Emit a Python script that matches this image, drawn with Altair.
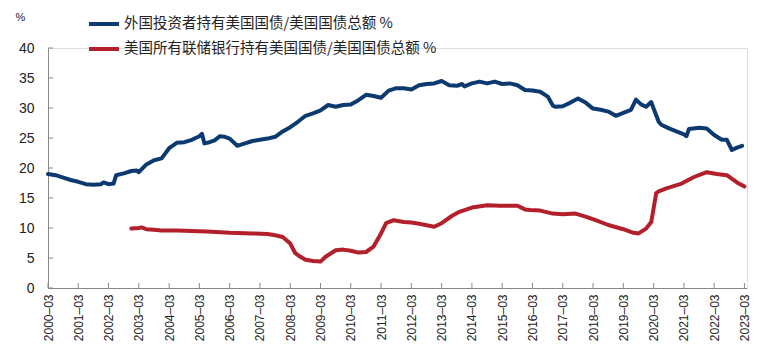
import altair as alt
import pandas as pd

foreign_label = "外国投资者持有美国国债/美国国债总额 %"
fed_label = "美国所有联储银行持有美国国债/美国国债总额 %"

foreign_dates = ["2000-03", "2000-06", "2000-09", "2000-12", "2001-03", "2001-06", "2001-09", "2001-12",
                 "2002-01", "2002-03", "2002-05", "2002-06", "2002-09", "2002-12", "2003-02", "2003-03",
                 "2003-06", "2003-09", "2003-12", "2004-03", "2004-06", "2004-09", "2004-12", "2005-03",
                 "2005-04", "2005-05", "2005-07", "2005-09", "2005-11", "2006-01", "2006-03", "2006-06",
                 "2006-09", "2006-12", "2007-03", "2007-06", "2007-09", "2007-12", "2008-03", "2008-06",
                 "2008-09", "2008-12", "2009-03", "2009-06", "2009-09", "2009-12", "2010-03", "2010-06",
                 "2010-09", "2010-12", "2011-03", "2011-06", "2011-09", "2011-12", "2012-03", "2012-06",
                 "2012-09", "2012-12", "2013-03", "2013-06", "2013-09", "2013-11", "2013-12", "2014-03",
                 "2014-06", "2014-09", "2014-12", "2015-03", "2015-06", "2015-09", "2015-12", "2016-03",
                 "2016-06", "2016-09", "2016-11", "2016-12", "2017-03", "2017-06", "2017-09", "2017-12",
                 "2018-03", "2018-06", "2018-09", "2018-12", "2019-03", "2019-06", "2019-08", "2019-10",
                 "2019-12", "2020-02", "2020-03", "2020-05", "2020-06", "2020-09", "2020-12", "2021-03",
                 "2021-04", "2021-05", "2021-09", "2021-12", "2022-03", "2022-06", "2022-08", "2022-10",
                 "2022-12", "2023-02"]
foreign_values = [19.0, 18.8, 18.4, 18.0, 17.7, 17.3, 17.2, 17.3,
                  17.6, 17.3, 17.4, 18.8, 19.1, 19.5, 19.6, 19.3,
                  20.6, 21.3, 21.6, 23.3, 24.2, 24.3, 24.7, 25.3,
                  25.7, 24.1, 24.3, 24.6, 25.3, 25.2, 24.9, 23.7,
                  24.1, 24.5, 24.7, 24.9, 25.2, 26.1, 26.8, 27.7,
                  28.7, 29.1, 29.6, 30.5, 30.2, 30.5, 30.6, 31.3,
                  32.2, 32.0, 31.7, 32.9, 33.3, 33.3, 33.1, 33.8,
                  34.0, 34.1, 34.5, 33.8, 33.7, 34.0, 33.6, 34.1,
                  34.4, 34.1, 34.4, 34.0, 34.1, 33.8, 33.0, 32.9,
                  32.7, 31.9, 30.4, 30.2, 30.3, 30.9, 31.6, 30.9,
                  29.9, 29.7, 29.4, 28.7, 29.2, 29.7, 31.4, 30.6,
                  30.2, 31.0, 29.9, 27.7, 27.2, 26.6, 26.1, 25.6,
                  25.3, 26.5, 26.7, 26.6, 25.5, 24.7, 24.7, 23.0,
                  23.4, 23.7]

fed_dates = ["2002-12", "2003-03", "2003-04", "2003-06", "2003-09", "2003-12", "2004-06", "2004-12",
             "2005-06", "2006-03", "2006-12", "2007-06", "2007-09", "2007-12", "2008-03", "2008-05",
             "2008-07", "2008-09", "2008-12", "2009-03", "2009-05", "2009-09", "2009-12", "2010-03",
             "2010-06", "2010-09", "2010-12", "2011-03", "2011-05", "2011-08", "2011-12", "2012-03",
             "2012-06", "2012-12", "2013-03", "2013-07", "2013-10", "2014-03", "2014-09", "2015-02",
             "2015-09", "2015-12", "2016-02", "2016-06", "2016-11", "2017-03", "2017-08", "2017-12",
             "2018-04", "2018-09", "2019-03", "2019-07", "2019-09", "2019-12", "2020-02", "2020-04",
             "2020-05", "2020-08", "2021-02", "2021-07", "2021-12", "2022-04", "2022-08", "2022-12",
             "2023-03"]
fed_values = [9.9, 10.0, 10.1, 9.8, 9.7, 9.6, 9.6, 9.5,
              9.4, 9.2, 9.1, 9.0, 8.8, 8.5, 7.4, 5.8,
              5.2, 4.7, 4.5, 4.4, 5.2, 6.3, 6.4, 6.2,
              5.9, 6.0, 6.9, 9.1, 10.8, 11.3, 11.0, 10.9,
              10.7, 10.2, 10.8, 12.0, 12.7, 13.4, 13.8, 13.7,
              13.7, 13.1, 13.0, 12.9, 12.4, 12.3, 12.4, 11.9,
              11.3, 10.5, 9.8, 9.2, 9.1, 9.9, 11.0, 15.8,
              16.1, 16.6, 17.4, 18.5, 19.3, 19.0, 18.8, 17.6,
              16.9]

tick_years = list(range(2000, 2024))
y_ticks = [0, 5, 10, 15, 20, 25, 30, 35, 40]

df = pd.concat([
    pd.DataFrame({"date": [d + "-01" for d in foreign_dates], "value": foreign_values, "series": foreign_label}),
    pd.DataFrame({"date": [d + "-01" for d in fed_dates], "value": fed_values, "series": fed_label}),
])
tick_df = pd.DataFrame({"date": [f"{y}-03-01" for y in tick_years]})
ytick_df = pd.DataFrame({"v": y_ticks})

W, H = 699, 240
xscale = alt.Scale(type="utc", domain=[alt.DateTime(year=2000, month=3, date=1, utc=True),
                                        alt.DateTime(year=2023, month=4, date=1, utc=True)])
yscale = alt.Scale(domain=[0, 40], nice=False, zero=True)

x_axis = alt.Axis(values=[alt.DateTime(year=y, month=3, date=1, utc=True) for y in tick_years],
                  labelExpr="utcFormat(datum.value, '%Y–%m')", labelAngle=-90,
                  labelFont="Liberation Sans", labelFontSize=12, labelColor="#222",
                  labelPadding=6, labelOverlap=False, labelFlush=False, labelBound=False,
                  tickSize=0, domainColor="#888", grid=False, title=None)
y_axis = alt.Axis(values=y_ticks, labelFont="Liberation Sans", labelFontSize=14, labelColor="#222",
                  labelPadding=14, labelOverlap=False, labelFlush=False, labelBound=False,
                  tickSize=0, domainColor="#888", grid=False,
                  title="%", titleAngle=0, titleFont="Liberation Sans", titleFontSize=11,
                  titleFontWeight="normal", titleColor="#222", titleX=-28, titleY=-31,
                  titleAlign="center", titleBaseline="middle")

lines = alt.Chart(df).mark_line(strokeWidth=4, strokeCap="round", strokeJoin="round").encode(
    x=alt.X("date:T", scale=xscale, axis=x_axis),
    y=alt.Y("value:Q", scale=yscale, axis=y_axis),
    color=alt.Color("series:N",
                    scale=alt.Scale(domain=[foreign_label, fed_label], range=["#0c3a70", "#b31f2a"]),
                    legend=alt.Legend(orient="none", legendX=39, legendY=-41, direction="vertical",
                                      title=None, symbolType="stroke", symbolStrokeWidth=4,
                                      symbolSize=900, labelFont="Noto Sans CJK SC", labelFontSize=14.5,
                                      labelColor="#222", labelOffset=3, labelLimit=500, rowPadding=0)),
)

xticks = alt.Chart(tick_df).mark_rule(color="#888", strokeWidth=1).encode(
    x=alt.X("date:T", scale=xscale, axis=x_axis), y=alt.value(H), y2=alt.value(H - 5))
yticks = alt.Chart(ytick_df).mark_rule(color="#888", strokeWidth=1).encode(
    y=alt.Y("v:Q", scale=yscale, axis=y_axis), x=alt.value(0), x2=alt.value(5))

chart = alt.layer(lines, xticks, yticks).properties(
    width=W, height=H,
    autosize=alt.AutoSizeParams(type="none"),
    padding={"left": 48, "top": 48, "right": 21, "bottom": 67},
).configure_view(stroke=None).configure(background="white")

chart.save("out.html", embed_options={"renderer": "svg", "actions": False})
